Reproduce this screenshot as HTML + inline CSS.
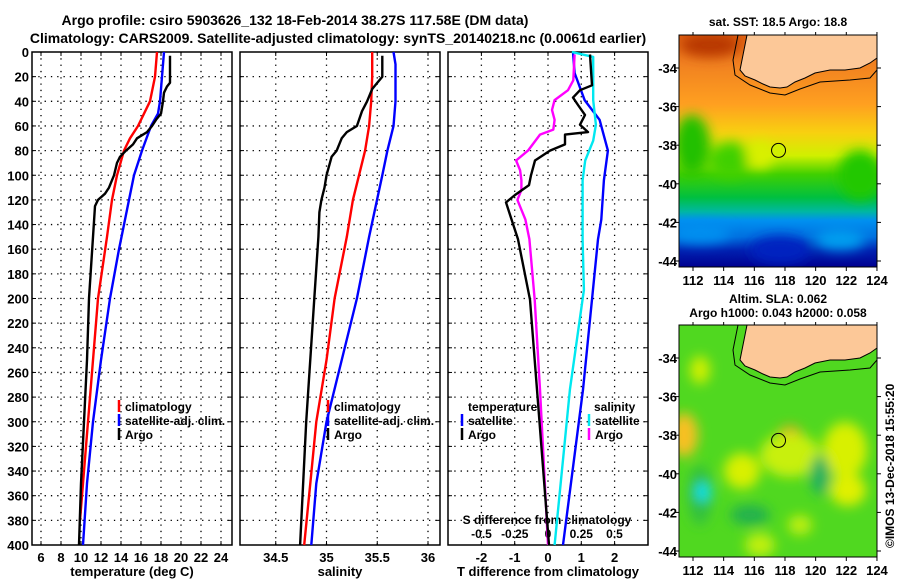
<!DOCTYPE html>
<html><head><meta charset="utf-8">
<style>
body{margin:0;background:#fff;}
svg{display:block;font-family:"Liberation Sans",sans-serif;font-weight:bold;}
</style></head>
<body>
<svg id="c" width="900" height="580" viewBox="0 0 900 580" xmlns="http://www.w3.org/2000/svg">
<defs>
<linearGradient id="sstg" x1="0" y1="0" x2="0" y2="1">
<stop offset="0" stop-color="#e06010"/><stop offset="0.12" stop-color="#f08020"/>
<stop offset="0.3" stop-color="#ffa020"/><stop offset="0.42" stop-color="#f8d010"/>
<stop offset="0.52" stop-color="#d0f000"/><stop offset="0.6" stop-color="#40d000"/>
<stop offset="0.7" stop-color="#00c040"/><stop offset="0.76" stop-color="#00b8a0"/>
<stop offset="0.8" stop-color="#0090f0"/><stop offset="0.87" stop-color="#0070e0"/>
<stop offset="0.93" stop-color="#0020b0"/><stop offset="1" stop-color="#000090"/>
</linearGradient>
<filter id="bl" x="-50%" y="-50%" width="200%" height="200%"><feGaussianBlur stdDeviation="6"/></filter>
<clipPath id="cm1"><rect x="679" y="35" width="198" height="232"/></clipPath>
<clipPath id="cm2"><rect x="679" y="325" width="198" height="232"/></clipPath>
</defs>
<text x="295" y="25" font-size="14" text-anchor="middle">Argo profile: csiro 5903626_132 18-Feb-2014 38.27S 117.58E (DM data)</text>
<text x="338" y="43" font-size="14" text-anchor="middle">Climatology: CARS2009. Satellite-adjusted climatology: synTS_20140218.nc (0.0061d earlier)</text>
<g id="plots"></g>
<g id="maps"></g>
</svg>
<script>
// ---- data ----
const tempClimDepth=[0,20,40,60,70,80,100,120,150,200,250,300,350,380];
const tempClim=[17.6,17.4,16.9,15.7,14.9,14.3,13.6,13.1,12.6,11.7,11.2,10.7,10.2,9.9];
const tempSatDepth=[0,20,40,50,60,80,100,120,140,160,200,250,300,350,400];
const tempSat=[18.3,18.1,17.9,17.7,17.0,16.1,15.3,14.8,14.3,13.8,12.9,12.0,11.2,10.6,10.2];
const tempArgoDepth=[3,25,28,33,40,50,55,60,65,68,70,75,80,85,90,100,110,115,120,125,150,200,250,300,350,400];
const tempArgo=[18.9,18.9,18.6,18.3,18.2,18.0,17.5,17.1,16.6,16.0,15.6,15.2,14.5,13.9,13.6,13.3,12.8,12.4,11.7,11.4,11.2,10.8,10.6,10.3,10.0,9.8];
const salClimDepth=[0,20,40,60,80,100,120,150,200,250,300,350,400];
const salClim=[35.45,35.45,35.44,35.42,35.38,35.32,35.26,35.2,35.08,35.0,34.9,34.84,34.78];
const salSatDepth=[0,10,40,60,80,100,150,200,250,300,350,400];
const salSat=[35.66,35.68,35.68,35.66,35.6,35.55,35.42,35.3,35.15,35.0,34.9,34.85];
const salArgoDepth=[3,20,25,30,40,48,60,65,70,80,85,100,110,120,130,150,200,300,400];
const salArgo=[35.55,35.55,35.5,35.45,35.4,35.35,35.3,35.2,35.15,35.1,35.05,35.0,34.98,34.95,34.93,34.92,34.88,34.8,34.74];
const dTSatDepth=[0,17,39,55,80,104,136,152,274,400];
const dTSat=[0.75,0.8,1.1,1.55,1.8,1.68,1.6,1.5,1.05,0.45];
const dSSatDepth=[0,4,39,59,72,88,104,152,193,274,400];
const dSSat=[0.18,0.34,0.34,0.36,0.34,0.28,0.26,0.26,0.27,0.165,0.05];
const dSArgoDepth=[2,23,31,39,47,55,63,67,80,88,96,104,112,120,136,152,201,274,400];
const dSArgo=[0.2,0.19,0.15,0.05,0.03,0.05,0.04,-0.06,-0.15,-0.24,-0.21,-0.2,-0.2,-0.23,-0.17,-0.14,-0.1,-0.06,0.0];
const dTArgoDepth=[2,27,31,37,43,51,59,65,67,75,80,88,100,108,116,122,132,152,201,274,400];
const dTArgo=[1.26,1.32,0.96,0.75,0.9,1.11,0.96,1.2,0.51,0.51,0.06,-0.39,-0.51,-0.57,-0.99,-1.26,-1.14,-0.9,-0.54,-0.33,0.03];
const depthTicks=[0,20,40,60,80,100,120,140,160,180,200,220,240,260,280,300,320,340,360,380,400];
const tTicks=[6,8,10,12,14,16,18,20,22,24];
const sTicks=[34.5,35,35.5,36];
const dTTicks=[-2,-1,0,1,2];
const dSTicks=[-0.5,-0.25,0,0.25,0.5];
const lonTicks=[112,114,116,118,120,122,124];
const latTicks=[-34,-36,-38,-40,-42,-44];

const NS="http://www.w3.org/2000/svg";
const root=document.getElementById('plots');
function mk(tag,attrs,parent){const e=document.createElementNS(NS,tag);for(const k in attrs)e.setAttribute(k,attrs[k]);(parent||root).appendChild(e);return e;}
const Y0=52,Y1=545;
const yD=d=>Y0+d*(Y1-Y0)/400;
const xT=t=>41+(t-6)*10;
const xS=s=>326.5+(s-35)*101.5;
const xDT=v=>548+v*33.3;
const xDS=v=>548+v*133;

function frame(x0,x1,name,ticks,fx,labels,title,showDepth){
  const g=mk('g',{});
  
  
  depthTicks.forEach(d=>{const y=yD(d);
    if(d>0&&d<400){const l=mk('line',{x1:x0,x2:x1,y1:y,y2:y,stroke:'#000','stroke-width':1.3,'stroke-dasharray':'1.3,5'},g);}
    mk('line',{x1:x0,x2:x0+4,y1:y,y2:y,stroke:'#000'},g);mk('line',{x1:x1-4,x2:x1,y1:y,y2:y,stroke:'#000'},g);
    if(showDepth){const t=mk('text',{x:x0-3,y:y+5,'font-size':13,'text-anchor':'end'},g);t.textContent=d;}
  });
  ticks.forEach(v=>{const x=fx(v);
    const l=mk('line',{x1:x,x2:x,y1:Y0,y2:Y1,stroke:'#000','stroke-width':1.3,'stroke-dasharray':'1.3,5'},g);
    mk('line',{x1:x,x2:x,y1:Y1,y2:Y1-4,stroke:'#000'},g);mk('line',{x1:x,x2:x,y1:Y0,y2:Y0+4,stroke:'#000'},g);
    if(labels){const t=mk('text',{x:x,y:562,'font-size':13,'text-anchor':'middle'},g);t.textContent=v;}
  });
  const r=mk('rect',{x:x0,y:Y0,width:x1-x0,height:Y1-Y0,fill:'none',stroke:'#000','stroke-width':1.5},g);
  
  const tt=mk('text',{x:(x0+x1)/2,y:576,'font-size':13,'text-anchor':'middle'},g);tt.textContent=title;
  
  return g;
}
function series(xs,ds,fx,color,name,w){
  const pts=xs.map((v,i)=>fx(v).toFixed(1)+','+yD(ds[i]).toFixed(1)).join(' ');
  const p=mk('polyline',{points:pts,fill:'none',stroke:color,'stroke-width':w||2.4,'stroke-linejoin':'round'});
  
}
function legend(x,y,color,label,name){
  const g=mk('g',{});
  
  if(color)mk('line',{x1:x,x2:x,y1:y-11,y2:y+1,stroke:color,'stroke-width':2.5},g);
  const t=mk('text',{x:x+6,y:y,'font-size':12},g);t.textContent=label;
}
frame(32,232,'temperature-panel',tTicks,xT,true,'temperature (deg C)',true);
frame(240,440,'salinity-panel',sTicks,xS,true,'salinity',false);
frame(448,648,'difference-panel',dTTicks,xDT,true,'T difference from climatology',false);
dSTicks.forEach(v=>{const t=mk('text',{x:xDS(v),y:538,'font-size':12,'text-anchor':'middle'});t.textContent=v;
  });
{const t=mk('text',{x:547,y:524,'font-size':12,'text-anchor':'middle'});t.textContent='S difference from climatology';
 }

series(tempClim,tempClimDepth,xT,'#ff0000','temp-climatology-line');
series(tempSat,tempSatDepth,xT,'#0000ff','temp-satellite-line');
series(tempArgo,tempArgoDepth,xT,'#000000','temp-argo-line');
series(salClim,salClimDepth,xS,'#ff0000','sal-climatology-line');
series(salSat,salSatDepth,xS,'#0000ff','sal-satellite-line');
series(salArgo,salArgoDepth,xS,'#000000','sal-argo-line');
series(dTSat,dTSatDepth,xDT,'#0000ff','t-diff-satellite-line');
series(dSSat,dSSatDepth,xDS,'#00e8f0','s-diff-satellite-line');
series(dSArgo,dSArgoDepth,xDS,'#ff00ff','s-diff-argo-line');
series(dTArgo,dTArgoDepth,xDT,'#000000','t-diff-argo-line');

legend(119,411,'#ff0000','climatology','legend-temp-climatology');
legend(119,425,'#0000ff','satellite-adj. clim.','legend-temp-satellite');
legend(119,439,'#000000','Argo','legend-temp-argo');
legend(328,411,'#ff0000','climatology','legend-sal-climatology');
legend(328,425,'#0000ff','satellite-adj. clim.','legend-sal-satellite');
legend(328,439,'#000000','Argo','legend-sal-argo');
legend(462,411,null,'temperature','legend-temperature-heading');
legend(462,425,'#0000ff','satellite','legend-t-satellite');
legend(462,439,'#000000','Argo','legend-t-argo');
legend(588,411,null,'salinity','legend-salinity-heading');
legend(589,425,'#00e8f0','satellite','legend-s-satellite');
legend(589,439,'#ff00ff','Argo','legend-s-argo');

// ---- maps ----
const maps=document.getElementById('maps');
const xLon=l=>693+(l-112)*15.33;
function latY(top){return l=>top+33+(-34-l)*19.3;}
function map(top,clip,name,title1,title2,kind){
  const g=mk('g',{},maps);
  
  const yl=latY(top);
  const body=mk('g',{'clip-path':'url(#'+clip+')'},g);
  if(kind==='sst'){
    mk('rect',{x:679,y:top,width:198,height:232,fill:'url(#sstg)'},body);
    const b=mk('g',{filter:'url(#bl)'},body);
    mk('ellipse',{cx:710,cy:top+10,rx:30,ry:12,fill:'#b83800'},b);
    mk('ellipse',{cx:692,cy:top+110,rx:18,ry:30,fill:'#20c000'},b);
    mk('ellipse',{cx:730,cy:top+125,rx:20,ry:18,fill:'#40d000'},b);
    mk('ellipse',{cx:760,cy:top+120,rx:14,ry:14,fill:'#d8f000'},b);
    mk('ellipse',{cx:860,cy:top+140,rx:22,ry:25,fill:'#20c800'},b);
    mk('ellipse',{cx:700,cy:top+198,rx:30,ry:10,fill:'#0090f0'},b);
    mk('ellipse',{cx:780,cy:top+215,rx:30,ry:14,fill:'#0020c0'},b);
    mk('ellipse',{cx:840,cy:top+205,rx:25,ry:10,fill:'#00a0f0'},b);
  } else {
    mk('rect',{x:679,y:top,width:198,height:232,fill:'#50d820'},body);
    const b=mk('g',{filter:'url(#bl)'},body);
    [[684,110,14,22,'#f8c020'],[742,146,18,18,'#d8f000'],[790,115,14,14,'#f0a020'],[790,130,30,22,'#c8f010'],[845,125,22,28,'#d8f000'],[848,165,18,16,'#e0f000'],[700,45,10,14,'#d0f000'],[760,220,15,12,'#c0f010'],[800,200,12,10,'#c0f010'],[820,150,10,20,'#20b060'],[750,190,20,10,'#20b050'],[700,170,12,30,'#30c040']].forEach(e=>mk('ellipse',{cx:e[0],cy:top+e[1],rx:e[2],ry:e[3],fill:e[4]},b));
    mk('ellipse',{cx:703,cy:top+167,rx:8,ry:9,fill:'#00e0f0'},b);
  }
  const land=[[747,0],[742,25],[740,35],[745,41],[755,45],[763,49],[770,52],[780,53],[787,52],[795,47],[805,43],[815,38],[830,35],[845,35],[860,33],[870,28],[877,23],[877,0]];
  const lp=mk('polygon',{points:land.map(p=>p[0]+','+(p[1]+top)).join(' '),fill:'#fcc898',stroke:'#000','stroke-width':1},body);
  
  const cont=[[738,0],[733,25],[735,40],[750,50],[770,58],[785,60],[800,54],[820,47],[850,45],[870,43],[877,35]];
  mk('polyline',{points:cont.map(p=>p[0]+','+(p[1]+top)).join(' '),fill:'none',stroke:'#000','stroke-width':1},body);
  const mkr=mk('circle',{cx:xLon(117.58),cy:yl(-38.27),r:7,fill:kind==='sst'?'#d0f000':'none',stroke:'#000','stroke-width':1},g);
  
  mk('rect',{x:679,y:top,width:198,height:232,fill:'none',stroke:'#000'},g);
  lonTicks.forEach(l=>{const x=xLon(l);mk('line',{x1:x,x2:x,y1:top,y2:top-3,stroke:'#000'},g);mk('line',{x1:x,x2:x,y1:top+232,y2:top+236,stroke:'#000'},g);
    const t=mk('text',{x:x,y:top+250,'font-size':13,'text-anchor':'middle',fill:'#000'},g);t.textContent=l;
    });
  latTicks.forEach(l=>{const y=yl(l);mk('line',{x1:675,x2:679,y1:y,y2:y,stroke:'#000'},g);mk('line',{x1:877,x2:881,y1:y,y2:y,stroke:'#000'},g);
    const t=mk('text',{x:677,y:y+5,'font-size':13,fill:'#000','text-anchor':'end'},g);t.textContent=l;
    });
  const t1=mk('text',{x:778,y:top-(title2?22:9),'font-size':12,'text-anchor':'middle'},g);t1.textContent=title1;
  
  if(title2){const t2=mk('text',{x:778,y:top-8,'font-size':12,'text-anchor':'middle'},g);t2.textContent=title2;
    }
}
map(35,'cm1','sst-map','sat. SST: 18.5 Argo: 18.8',null,'sst');
map(325,'cm2','sla-map','Altim. SLA: 0.062','Argo h1000: 0.043 h2000: 0.058','sla');
{const t=mk('text',{x:0,y:0,'font-size':12,transform:'translate(894,548) rotate(-90)'},maps);t.textContent='©IMOS 13-Dec-2018 15:55:20';
 }
</script>
</body></html>
